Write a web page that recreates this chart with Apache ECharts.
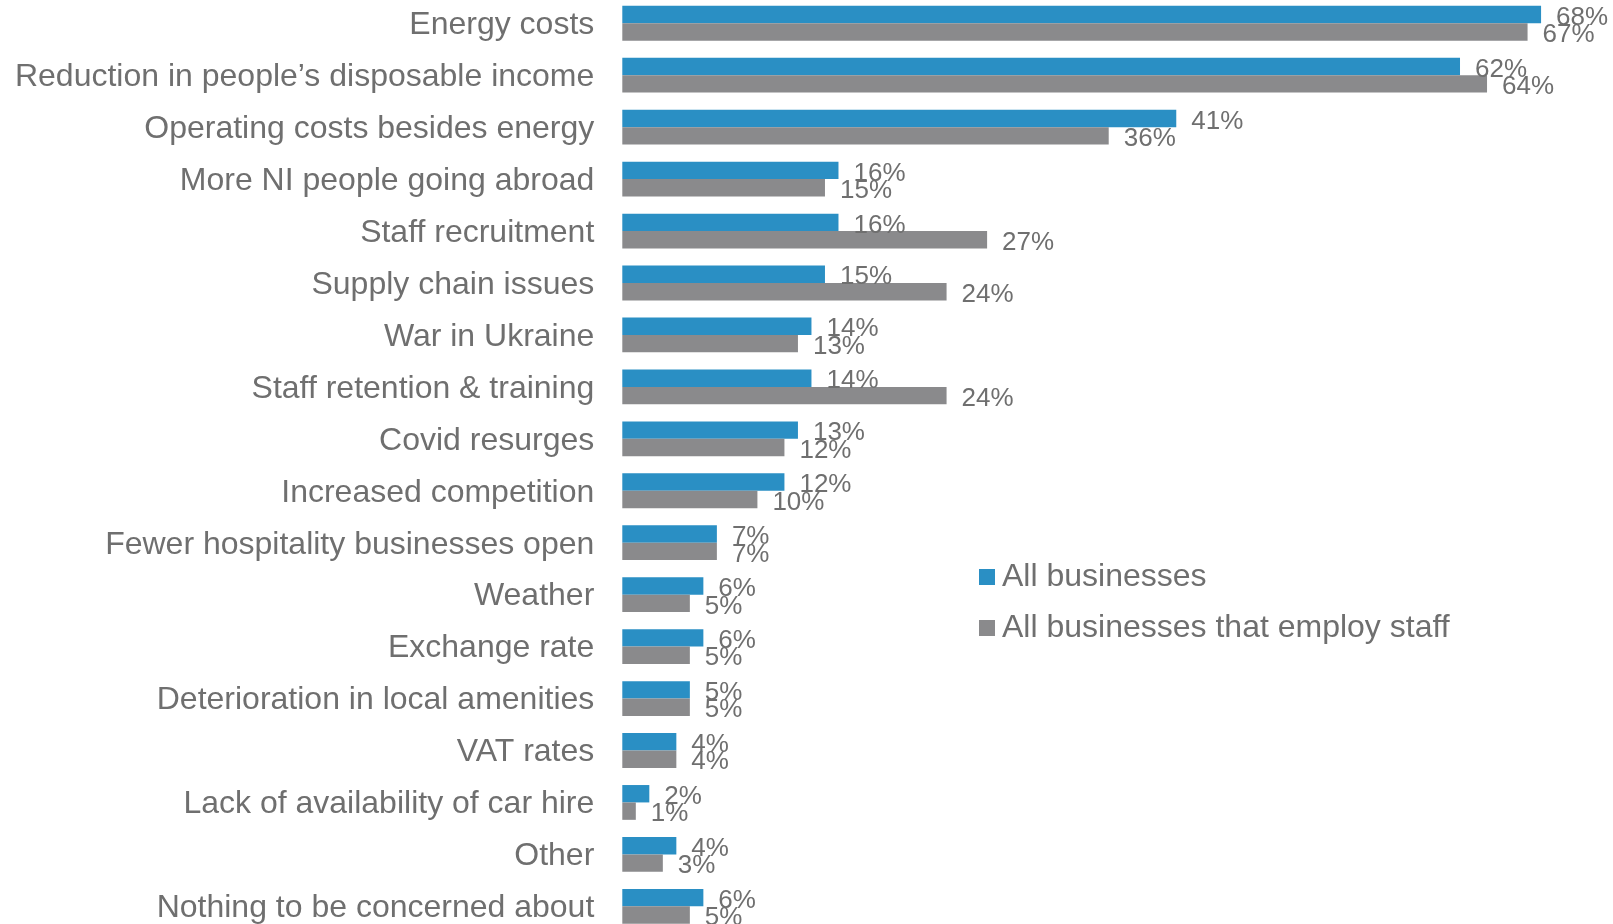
<!DOCTYPE html>
<html>
<head>
<meta charset="utf-8">
<script src="https://cdn.jsdelivr.net/npm/echarts@6/dist/echarts.min.js"></script>
<style>
  html, body { margin: 0; padding: 0; background: #ffffff; overflow: hidden; }
  body { width: 1613px; height: 924px; position: relative; }
  #chart { position: absolute; left: 0; top: -3px; width: 1613px; height: 940px; }
</style>
</head>
<body>
<div id="chart"></div>
<script>
// Concerns reported by businesses (share of respondents, %)
const categories = [
  'Energy costs',
  'Reduction in people\u2019s disposable income',
  'Operating costs besides energy',
  'More NI people going abroad',
  'Staff recruitment',
  'Supply chain issues',
  'War in Ukraine',
  'Staff retention & training',
  'Covid resurges',
  'Increased competition',
  'Fewer hospitality businesses open',
  'Weather',
  'Exchange rate',
  'Deterioration in local amenities',
  'VAT rates',
  'Lack of availability of car hire',
  'Other',
  'Nothing to be concerned about'
];
const allBusinesses = [68, 62, 41, 16, 16, 15, 14, 14, 13, 12, 7, 6, 6, 5, 4, 2, 4, 6];
const employStaff   = [67, 64, 36, 15, 27, 24, 13, 24, 12, 10, 7, 5, 5, 5, 4, 1, 3, 5];
const seriesNames = ['All businesses', 'All businesses that employ staff'];

const FONT = '"Liberation Sans", Arial, sans-serif';
const TEXT = '#6f6f6f';

const chart = echarts.init(document.getElementById('chart'), null, { renderer: 'canvas' });

const valueLabel = {
  show: true,
  position: 'right',
  distance: 15,
  offset: [0, 3],
  formatter: p => p.value + '%',
  color: TEXT,
  fontFamily: FONT,
  fontSize: 26
};

chart.setOption({
  animation: false,
  backgroundColor: '#ffffff',
  grid: { left: 622.3, right: 44.9, top: 0.3, height: 935, containLabel: false },
  xAxis: {
    type: 'value',
    min: 0,
    max: 70,
    show: false
  },
  yAxis: {
    type: 'category',
    data: categories,
    inverse: true,
    axisLine: { show: false },
    axisTick: { show: false },
    axisLabel: {
      margin: 28,
      color: TEXT,
      fontFamily: FONT,
      fontSize: 32,
      formatter: v => '{c|' + v + '}',
      rich: {
        c: { color: TEXT, fontFamily: FONT, fontSize: 32, lineHeight: 36, padding: [4, 0, 0, 0] }
      }
    }
  },
  legend: {
    orient: 'vertical',
    left: 974,
    top: 559,
    itemWidth: 16,
    itemHeight: 16,
    itemGap: 19,
    icon: 'rect',
    data: seriesNames,
    textStyle: { color: TEXT, fontFamily: FONT, fontSize: 32, lineHeight: 32, padding: [0, 0, 0, 2] }
  },
  series: [
    {
      name: seriesNames[0],
      type: 'bar',
      data: allBusinesses,
      barWidth: 17.4,
      barGap: '0%',
      itemStyle: { color: '#2a8fc4' },
      label: valueLabel
    },
    {
      name: seriesNames[1],
      type: 'bar',
      data: employStaff,
      barWidth: 17.4,
      barGap: '0%',
      itemStyle: { color: '#8a8a8c' },
      label: valueLabel
    }
  ]
});
</script>
</body>
</html>
